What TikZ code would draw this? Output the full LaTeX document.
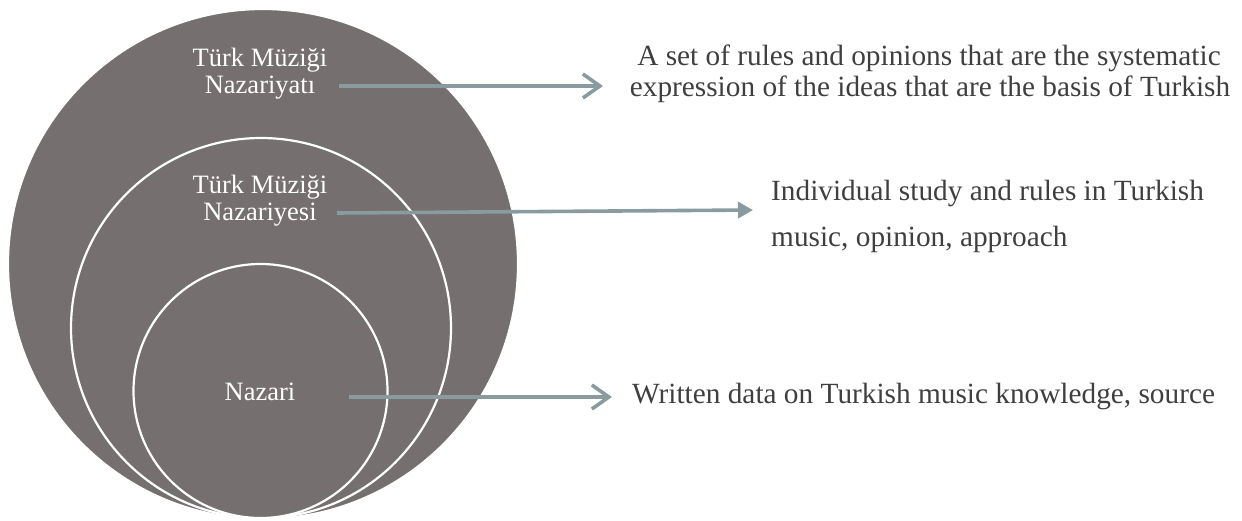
\documentclass[tikz,border=0pt]{standalone}
\usepackage{fontspec}
\setmainfont{Liberation Serif}
\usetikzlibrary{arrows.meta}
\definecolor{discgray}{HTML}{75706F}
\definecolor{arrowgray}{HTML}{8A9BA0}
\definecolor{textgray}{HTML}{3F3F3F}
\tikzset{
  disc/.style={circle, inner sep=0pt, fill=discgray, draw=white, line width=2.2pt},
  lefttext/.style={anchor=base, text=white, inner sep=0pt, font=\fontsize{26.5}{27}\selectfont},
  righttext/.style={anchor=base, text=textgray, inner sep=0pt, font=\fontsize{29.3}{31}\selectfont},
  barbarrow/.style={draw=arrowgray, line width=3.6pt, -{Straight Barb[length=17pt,width=24pt,line width=3.6pt]}},
  trianglearrow/.style={draw=arrowgray, line width=3.6pt, -{Triangle[length=15pt,width=16pt]}}
}
\begin{document}
\begin{tikzpicture}[x=1pt,y=-1pt]
\useasboundingbox (0,0) rectangle (1242,520);
% circles
\node[disc, minimum size=510pt] (outer) at (263,264) {};
\node[disc, minimum size=380pt] (middle) at (261,328) {};
\node[disc, minimum size=254pt] (inner) at (260.5,391) {};
% left texts
\node[lefttext] (l1a) at (260,66) {Türk Müziği};
\node[lefttext] (l1b) at (260,93) {Nazariyatı};
\node[lefttext] (l2a) at (260,193) {Türk Müziği};
\node[lefttext] (l2b) at (260,220) {Nazariyesi};
\node[lefttext] (l3) at (260,400) {Nazari};
% right texts
\node[righttext] (r1a) at (929,65) {A set of rules and opinions that are the systematic};
\node[righttext] (r1b) at (930,96) {expression of the ideas that are the basis of Turkish};
\node[righttext, anchor=base west] (r2a) at (771,200) {Individual study and rules in Turkish};
\node[righttext, anchor=base west] (r2b) at (771,246) {music, opinion, approach};
\node[righttext, anchor=base west] (r3) at (632,403) {Written data on Turkish music knowledge, source};
% arrow end points
\coordinate (a1s) at (339,86);
\coordinate (a1e) at (603,86);
\coordinate (a2s) at (337,213);
\coordinate (a2e) at (753,210);
\coordinate (a3s) at (349,397);
\coordinate (a3e) at (612,397);
\draw[barbarrow] (a1s) -- (a1e);
\draw[trianglearrow] (a2s) -- (a2e);
\draw[barbarrow] (a3s) -- (a3e);
\end{tikzpicture}
\end{document}
